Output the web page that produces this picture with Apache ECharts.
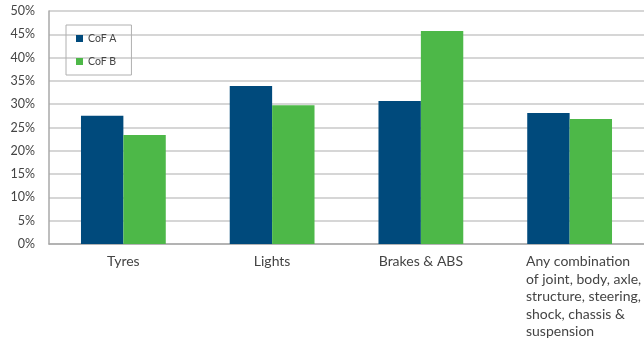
<!DOCTYPE html>
<html>
<head>
<meta charset="utf-8">
<title>CoF chart</title>
<script src="https://cdn.jsdelivr.net/npm/echarts@6/dist/echarts.min.js"></script>
<style>body{margin:0;background:#fff}</style>
</head>
<body>
<div id="main" style="width:644px;height:340px;"></div>
<script type="text/javascript">
var categories = ['Tyres', 'Lights', 'Brakes & ABS',
    'Any combination\nof joint, body, axle,\nstructure, steering,\nshock, chassis &\nsuspension'];
var cofA = [27.5, 33.9, 30.7, 28.1];
var cofB = [23.4, 29.8, 45.7, 26.8];

var myChart = echarts.init(document.getElementById('main'));
// last label is left aligned in the original, shifted right of its tick
var catData = categories.map(function (c, i) {
    if (i === 3) {
        return { value: c, textStyle: { padding: [0, 0, 0, 28] } };
    }
    return c;
});
myChart.setOption({
    animation: false,
    textStyle: { fontFamily: 'Lato' },
    grid: { left: 49, right: 0, top: 11, bottom: 96, outerBoundsMode: 'none', containLabel: false },
    legend: {
        orient: 'vertical',
        left: 66, top: 25,
        padding: [8, 15, 8, 10],
        itemGap: 12,
        itemWidth: 7, itemHeight: 7,
        icon: 'rect',
        borderColor: '#b0b0b0', borderWidth: 1,
        textStyle: { fontSize: 10.5, color: '#444', fontFamily: 'Lato' },
        data: ['CoF A', 'CoF B']
    },
    xAxis: {
        type: 'category',
        data: catData,
        axisTick: { show: false },
        axisLine: { lineStyle: { color: '#a8a8a8', width: 1.5 } },
        axisLabel: {
            interval: 0, color: '#444', fontSize: 14, margin: 9, lineHeight: 17.5,
            formatter: function (v) {
                return v.split('\n').map(function (s) { return '{l|' + s + '}'; }).join('\n');
            },
            rich: { l: { align: 'left', fontSize: 14, lineHeight: 17.5, color: '#444', fontFamily: 'Lato' } }
        }
    },
    yAxis: {
        type: 'value',
        min: 0, max: 50, interval: 5,
        axisLine: { show: true, lineStyle: { color: '#a8a8a8', width: 1.5 } },
        axisTick: { show: false },
        axisLabel: { formatter: '{value}%', color: '#444', fontSize: 12.5, margin: 14 },
        splitLine: { lineStyle: { color: '#c8c8c8', width: 1.5 } }
    },
    series: [{
        name: 'CoF A', type: 'bar', data: cofA,
        barGap: '0%', barCategoryGap: '43%',
        itemStyle: { color: '#004a7c' }
    }, {
        name: 'CoF B', type: 'bar', data: cofB,
        itemStyle: { color: '#4db848' }
    }]
});
</script>
</body>
</html>
